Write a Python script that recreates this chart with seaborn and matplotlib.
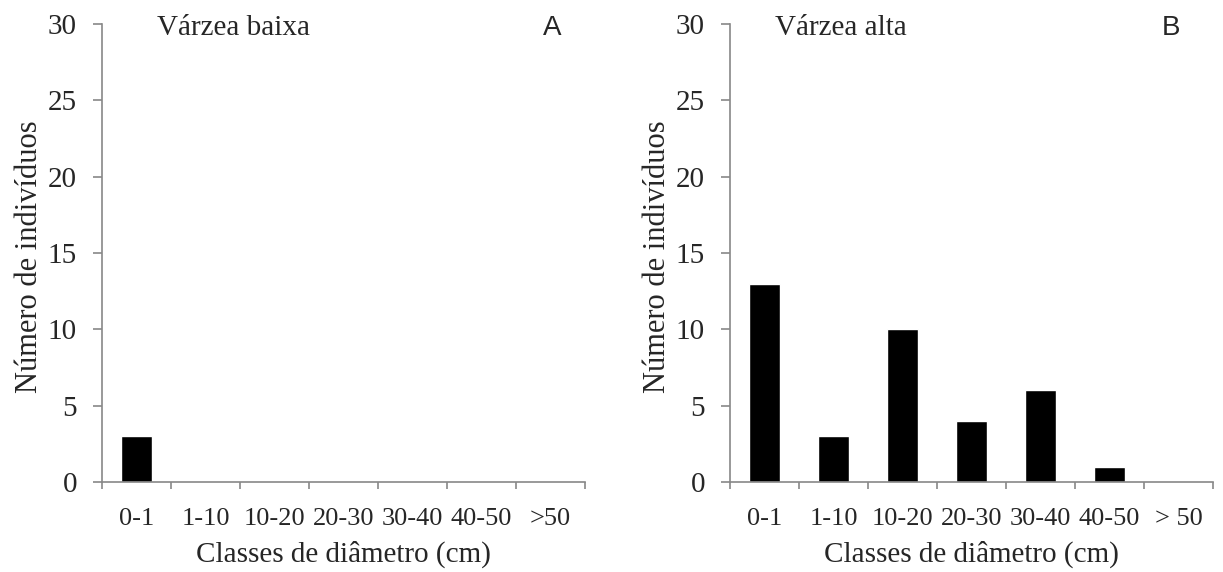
import numpy as np
import pandas as pd
import seaborn as sns
import matplotlib.pyplot as plt

classes_a = ['0-1', '1-10', '10-20', '20-30', '30-40', '40-50', '>50']
classes_b = ['0-1', '1-10', '10-20', '20-30', '30-40', '40-50', '> 50']
baixa = [3, 0, 0, 0, 0, 0, 0]
alta = [13, 3, 10, 4, 6, 1, 0]

sns.set_style('white')
plt.rcParams['font.family'] = ['Liberation Serif', 'DejaVu Serif']

fig = plt.figure(figsize=(12.23, 5.72), dpi=100)
ax1 = fig.add_axes([0.0834, 0.1573, 0.3949, 0.8007])
ax2 = fig.add_axes([0.5969, 0.1573, 0.3949, 0.8007])

spine_col = '#888888'
panels = [(ax1, classes_a, baixa, 'Várzea baixa', 'A', 0.114, 0.932),
          (ax2, classes_b, alta, 'Várzea alta', 'B', 0.093, 0.913)]

for ax, cats, vals, title, letter, tx, lx in panels:
    df = pd.DataFrame({'classe': cats, 'n': vals})
    sns.barplot(data=df, x='classe', y='n', color='black', width=0.46,
                saturation=1, ax=ax)
    ax.set_xlim(-0.5, 6.5)
    ax.set_ylim(0, 30)
    ax.set_yticks(range(0, 31, 5))
    ax.set_xticks(range(7))
    ax.set_xticklabels(cats)
    ax.set_xticks(np.arange(-0.5, 7, 1), minor=True)
    ax.tick_params(axis='x', which='major', length=0, pad=19, labelsize=19)
    ax.tick_params(axis='x', which='minor', length=5, width=1.2, color=spine_col,
                   direction='out', bottom=True)
    ax.tick_params(axis='y', length=6.5, width=1.2, color=spine_col, direction='out',
                   left=True, pad=11.5, labelsize=21)
    for s in ['top', 'right']:
        ax.spines[s].set_visible(False)
    for s in ['left', 'bottom']:
        ax.spines[s].set_color(spine_col)
        ax.spines[s].set_linewidth(1.2)
    ax.set_xlabel('Classes de diâmetro (cm)', fontsize=21, va='center')
    ax.xaxis.set_label_coords(0.5, -0.158)
    ax.set_ylabel('Número de indivíduos', fontsize=22, va='center')
    ax.yaxis.set_label_coords(-0.15, 0.493)
    ax.text(tx, 0.991, title, transform=ax.transAxes, fontsize=21,
            ha='left', va='center')
    ax.text(lx, 0.991, letter, transform=ax.transAxes,
            fontsize=20, family='Liberation Sans', ha='center', va='center')

fig.savefig('out.png', dpi=100)
